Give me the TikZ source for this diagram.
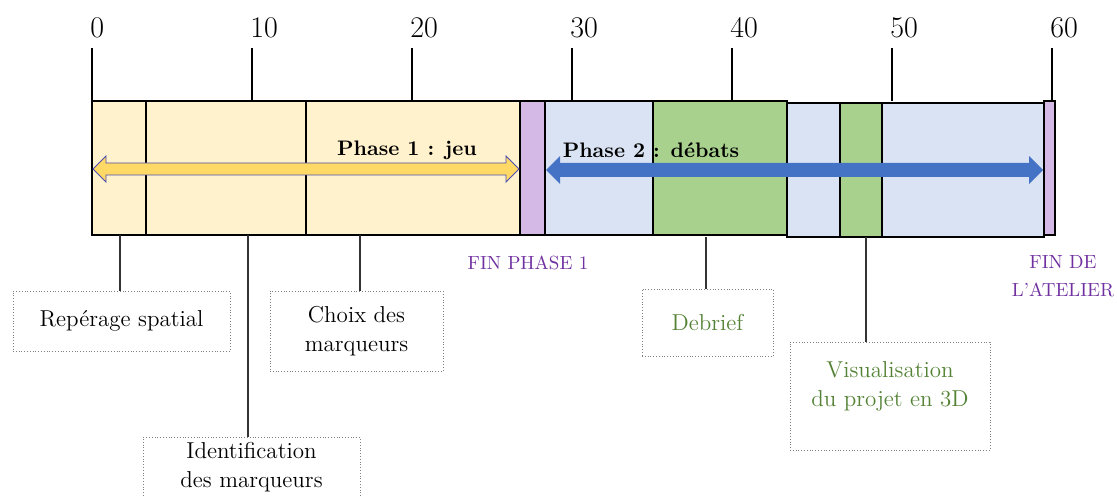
\documentclass[tikz,border=0pt]{standalone}
\usetikzlibrary{positioning}

\definecolor{jaune}{RGB}{255,242,204}
\definecolor{jauneF}{RGB}{255,217,102}
\definecolor{violet}{RGB}{212,185,230}
\definecolor{bleuC}{RGB}{218,227,243}
\definecolor{bleuF}{RGB}{68,114,196}
\definecolor{vert}{RGB}{169,209,142}
\definecolor{vertT}{RGB}{84,130,53}
\definecolor{violetT}{RGB}{112,48,160}

\begin{document}
\begin{tikzpicture}[x=0.5pt, y=-0.5pt,
    etape/.style={draw=gray, densely dotted, line width=0.4pt, align=center, inner sep=0pt,
        font=\fontsize{11.5}{14.5}\selectfont},
    graduation/.style={anchor=base west, inner sep=0pt, font=\fontsize{15}{18}\selectfont},
    phase/.style={inner sep=0pt, font=\fontsize{10.5}{12}\selectfont\bfseries},
    fin/.style={text=violetT, align=center, inner sep=0pt, font=\fontsize{9.5}{14}\selectfont},
    lien/.style={draw=black!80, line width=0.7pt}]
    \useasboundingbox (0,0) rectangle (1117,497);

    % graduations
    \foreach \t [evaluate=\t as \v using int(10*\t)] in {0,...,6} {
        \coordinate (tick\t) at (92+160*\t, 101);
        \node[graduation] (grad\t) at (90+160*\t, 38) {\v};
        \draw[line width=0.6pt] (tick\t) -- ++(0,-53);
    }

    % barre du temps
    \filldraw[fill=jaune, line width=0.8pt] (92,101) rectangle (520,235);
    \draw[line width=0.6pt] (146,101) -- (146,235);
    \draw[line width=0.6pt] (306,101) -- (306,235);
    \filldraw[fill=violet, line width=0.6pt] (520,101) rectangle (545,235);
    \filldraw[fill=bleuC, line width=0.6pt] (545,101) rectangle (653,235);
    \filldraw[fill=vert, line width=0.8pt] (653,101) rectangle (787,235);
    \filldraw[fill=bleuC, line width=0.6pt] (787,103) rectangle (1044,237);
    \filldraw[fill=vert, line width=0.6pt] (840,103) rectangle (882,237);
    \filldraw[fill=violet, line width=0.6pt] (1044,101) rectangle (1055,235);
    \draw[line width=1pt] (787,103) rectangle (1044,237);

    % fleches des phases
    \filldraw[fill=jauneF, draw=gray!60!blue, line width=0.4pt] (93,169) -- (106,156) -- (106,163) -- (506,163)
        -- (506,156) -- (519,169) -- (506,182) -- (506,175) -- (106,175) -- (106,182) -- cycle;
    \fill[bleuF] (546,170) -- (560,156) -- (560,163) -- (1029,163) -- (1029,156) -- (1043,170)
        -- (1029,184) -- (1029,177) -- (560,177) -- (560,184) -- cycle;
    \node[phase] (phase1) at (407,150) {Phase 1 : jeu};
    \node[phase] (phase2) at (651,150) {Phase 2 : débats};

    % etapes
    \node[etape, minimum width=108.5pt, minimum height=30pt] (reperage) at (121.5,321) {Repérage spatial};
    \node[etape, minimum width=108.5pt, minimum height=30pt, anchor=north] (identif) at (251.5,437)
        {Identification\\des marqueurs};
    \node[etape, minimum width=86.5pt, minimum height=40pt] (choix) at (356.5,331) {Choix des\\marqueurs};
    \node[etape, minimum width=65.5pt, minimum height=33.5pt, text=vertT] (debrief) at (707.5,322.5) {Debrief};
    \node[etape, minimum width=100pt, minimum height=54pt, text=vertT] (visu) at (890,396)
        {Visualisation\\du projet en 3D\\[-2.5pt]};
    \node[fin] (fin1) at (528,263) {FIN PHASE 1};
    \node[fin] (fin2) at (1063,276) {FIN DE\\L’ATELIER};

    % liens
    \coordinate (b-rep) at (120,235);
    \coordinate (b-ident) at (248,235);
    \coordinate (b-choix) at (360,235);
    \coordinate (b-deb) at (706,237);
    \coordinate (b-visu) at (866,237);
    \draw[lien] (b-rep) -- (b-rep |- reperage.north);
    \draw[lien] (b-ident) -- (b-ident |- identif.north);
    \draw[lien] (b-choix) -- (b-choix |- choix.north);
    \draw[lien] (b-deb) -- (b-deb |- debrief.north);
    \draw[lien] (b-visu) -- (b-visu |- visu.north);
\end{tikzpicture}
\end{document}
